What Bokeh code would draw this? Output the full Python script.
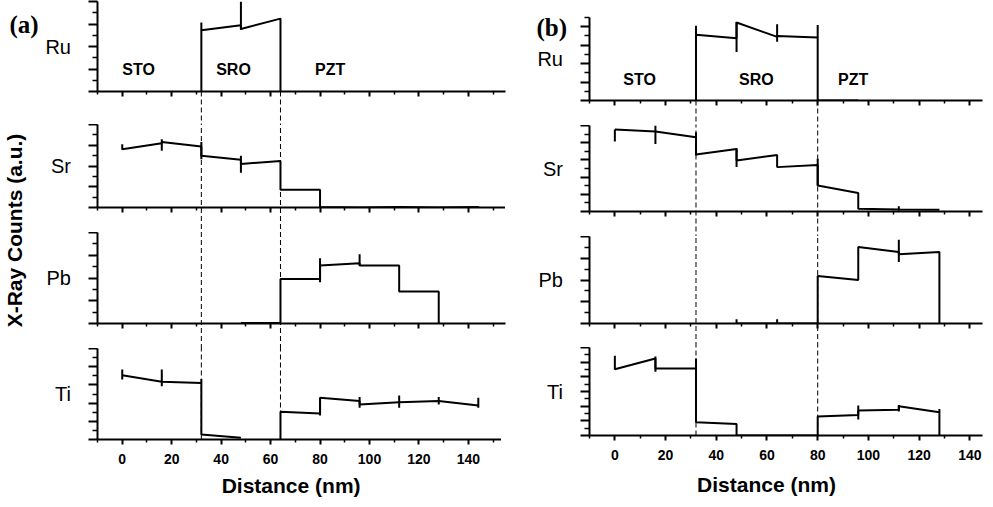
import math
from bokeh.plotting import figure
from bokeh.models import Range1d, FixedTicker, CustomLabelingPolicy
from bokeh.layouts import row, column
from bokeh.embed import file_html
from bokeh.resources import INLINE
from bokeh.core.properties import value

NaN = float("nan")

# ---------------- data ----------------
x_major = [0, 20, 40, 60, 80, 100, 120, 140]
x_minor_a = [-10, 10, 30, 50, 70, 90, 110, 130, 150]
x_minor_b = [-10, 10, 30, 50, 70, 90, 110, 130]
interfaces_a = [32, 64]
interfaces_b = [32, 80]
layer_names = ["STO", "SRO", "PZT"]
elements = ["Ru", "Sr", "Pb", "Ti"]

# panel (a)
ru_a_x = [32, 32, 48, 48, 64, 64]
ru_a_y = [0, 2.72, 2.94, 2.78, 3.24, 0]
ru_a_ex = [32, 48]
ru_a_lo = [2.72, 2.75]
ru_a_hi = [3.07, 4.0]

sr_a_x = [0, 16, 16, 32, 32, 48, 48, 64, 64, 80, 80, 96, 112, 128, 144]
sr_a_y = [2.81, 3.10, 3.16, 2.94, 2.49, 2.30, 2.10, 2.24, 0.86, 0.86, 0.02, 0.0, 0.03, 0.0, 0.02]
sr_a_ex = [0, 16, 32, 48, 112, 144]
sr_a_lo = [2.78, 2.73, 2.33, 1.67, 0.0, 0.0]
sr_a_hi = [3.05, 3.29, 3.16, 2.49, 0.07, 0.06]

pb_a_x = [48, 64, 64, 80, 80, 96, 96, 112, 112, 128, 128]
pb_a_y = [0.02, 0.03, 1.96, 1.96, 2.55, 2.65, 2.55, 2.55, 1.41, 1.41, 0.0]
pb_a_ex = [80, 96]
pb_a_lo = [1.81, 2.55]
pb_a_hi = [2.87, 3.04]

ti_a_x = [0, 16, 16, 32, 32, 48, NaN, 64, 64, 80, 80, 96, 96, 112, 128, 144]
ti_a_y = [3.53, 3.17, 3.17, 3.11, 0.27, 0.09, NaN, 0.0, 1.52, 1.43, 2.29, 2.11, 1.92, 2.05, 2.11, 1.87]
ti_a_ex = [0, 16, 32, 80, 96, 112, 128, 144]
ti_a_lo = [3.30, 2.93, 3.11, 1.32, 1.74, 1.74, 1.92, 1.74]
ti_a_hi = [3.85, 3.85, 3.33, 2.29, 2.34, 2.42, 2.34, 2.29]

# panel (b)
ru_b_x = [32, 32, 48, 48, 64, 64, 80, 80, 96]
ru_b_y = [0, 3.56, 3.38, 4.23, 3.45, 3.50, 3.41, 0, 0]
ru_b_ex = [32, 48, 64, 80]
ru_b_lo = [3.56, 2.63, 3.18, 3.41]
ru_b_hi = [4.05, 4.26, 4.14, 4.10]

sr_b_x = [0, 16, 32, 32, 48, 48, 64, 64, 80, 80, 96, 96, 112, 128]
sr_b_y = [4.77, 4.65, 4.32, 3.31, 3.64, 2.97, 3.29, 2.58, 2.71, 1.51, 1.07, 0.16, 0.12, 0.10]
sr_b_ex = [0, 16, 32, 48, 80, 112]
sr_b_lo = [4.07, 3.93, 3.26, 2.58, 1.51, 0.06]
sr_b_hi = [4.77, 5.0, 4.61, 3.68, 3.06, 0.30]

pb_b_x = [48, 80, 80, 96, 96, 112, 112, 128, 128]
pb_b_y = [0, 0, 2.18, 2.0, 3.52, 3.29, 3.18, 3.29, 0]
pb_b_ex = [48, 64, 112]
pb_b_lo = [0, 0, 2.83]
pb_b_hi = [0.2, 0.2, 3.85]

ti_b_x = [0, 16, 16, 32, 32, 48, 48, 80, 80, 96, 96, 112, 112, 128, 128]
ti_b_y = [4.52, 5.25, 4.57, 4.57, 0.90, 0.79, 0, 0, 1.29, 1.40, 1.70, 1.76, 1.99, 1.58, 0]
ti_b_ex = [0, 16, 32, 96, 112, 128]
ti_b_lo = [4.48, 4.34, 4.57, 1.09, 1.63, 1.58]
ti_b_hi = [5.43, 5.38, 5.25, 2.04, 2.08, 1.81]

FONT = "Liberation Sans"
SERIF = "Liberation Serif"
X_TITLE = "Distance (nm)"
Y_TITLE = "X-Ray Counts (a.u.)"


def no_labels():
    return CustomLabelingPolicy(code="return new Set()")


def halves(top):
    n = int(round(top * 2))
    major = [i * 0.5 for i in range(n + 1) if i % 2 == 0]
    minor = [i * 0.5 for i in range(n + 1) if i % 2 == 1]
    return major, minor


def style_axis(ax):
    ax.major_tick_in = 0
    ax.minor_tick_in = 0
    ax.axis_line_width = 2
    ax.axis_line_color = "black"
    ax.major_tick_line_width = 2
    ax.minor_tick_line_width = 1.5
    ax.major_tick_line_color = "black"
    ax.minor_tick_line_color = "black"
    ax.major_label_text_color = "black"
    ax.axis_label_text_color = "black"


def make_sub(elem, x_end, x_minor, y_top, fw, fh, bl, br, bt, bb, xs, ys, ex, lo, hi,
             interfaces, dash_mode, bottom=False):
    p = figure(frame_width=fw, frame_height=fh,
               x_range=Range1d(-10, x_end), y_range=Range1d(0, y_top),
               output_backend="svg", toolbar_location=None, title=None,
               min_border_left=bl, min_border_right=br,
               min_border_top=bt, min_border_bottom=bb)
    p.outline_line_color = None
    p.grid.visible = False
    p.background_fill_color = None
    p.border_fill_color = None

    major, minor = halves(y_top)
    ya = p.yaxis[0]
    style_axis(ya)
    ya.ticker = FixedTicker(ticks=major, minor_ticks=minor)
    ya.major_label_policy = no_labels()
    ya.major_label_text_font_size = "1px"
    ya.major_label_standoff = 0
    ya.major_tick_out = 9
    ya.minor_tick_out = 5
    ya.axis_label = elem
    ya.axis_label_orientation = "horizontal"
    ya.axis_label_text_font = FONT
    ya.axis_label_text_font_style = "normal"
    ya.axis_label_text_font_size = "20px"
    ya.axis_label_standoff = 14

    xa = p.xaxis[0]
    style_axis(xa)
    xa.ticker = FixedTicker(ticks=x_major, minor_ticks=x_minor)
    xa.major_tick_out = 5
    xa.minor_tick_out = 3
    if bottom:
        xa.major_label_text_font = FONT
        xa.major_label_text_font_style = "bold"
        xa.major_label_text_font_size = "14px"
        xa.major_label_standoff = 9
    else:
        xa.major_label_policy = no_labels()
        xa.major_label_text_font_size = "1px"
        xa.major_label_standoff = 0

    # dashed interface markers (overlay level: continue through the borders)
    n = len(interfaces)
    if dash_mode == "below":
        y0, y1 = 0, -50
    elif dash_mode == "full":
        y0, y1 = -50, 50
    else:
        y0, y1 = 0, 50
    p.segment(x0=interfaces, y0=[y0] * n, x1=interfaces, y1=[y1] * n,
              line_color="black", line_width=1, line_dash="5 3", level="overlay")

    p.line(xs, ys, line_color="black", line_width=2)
    p.segment(x0=ex, y0=lo, x1=ex, y1=hi, line_color="black", line_width=2)
    return p


def x_title(p, x, y):
    p.text(x=[x], y=[y], text=[X_TITLE], text_font=value(FONT), text_font_style="bold",
           text_font_size="21px", text_align="center", text_baseline="middle",
           text_color="black", level="overlay")


# ---------- panel (a) ----------
FWA = 408
BLA, BRA = 46, 5
ru_a = make_sub("Ru", 155, x_minor_a, 4, FWA, 90, BLA, BRA, 1, 33,
                ru_a_x, ru_a_y, ru_a_ex, ru_a_lo, ru_a_hi, interfaces_a, "below")
ru_a.text(x=[0, 38, 78], y=[1.0, 1.0, 1.0], text=layer_names,
          text_font=value(FONT), text_font_style="bold", text_font_size="16px",
          text_align="left", text_baseline="alphabetic", text_color="black")
sr_a = make_sub("Sr", 155, x_minor_a, 4, FWA, 83, BLA, BRA, 0, 25,
                sr_a_x, sr_a_y, sr_a_ex, sr_a_lo, sr_a_hi, interfaces_a, "full")
pb_a = make_sub("Pb", 155, x_minor_a, 4, FWA, 91, BLA, BRA, 0, 25,
                pb_a_x, pb_a_y, pb_a_ex, pb_a_lo, pb_a_hi, interfaces_a, "full")
ti_a = make_sub("Ti", 155, x_minor_a, 5, FWA, 91, BLA, BRA, 0, 60,
                ti_a_x, ti_a_y, ti_a_ex, ti_a_lo, ti_a_hi, interfaces_a, "top", bottom=True)
x_title(ti_a, 68.3, -2.53)

# ---------- panel (b) ----------
FWB = 393
BLB, BRB = 79, 3
ru_b = make_sub("Ru", 145, x_minor_b, 4.5, FWB, 83, BLB, BRB, 17, 25,
                ru_b_x, ru_b_y, ru_b_ex, ru_b_lo, ru_b_hi, interfaces_b, "below")
ru_b.text(x=[3.3, 49, 88], y=[1.12, 1.12, 1.12], text=layer_names,
          text_font=value(FONT), text_font_style="bold", text_font_size="16px",
          text_align="left", text_baseline="alphabetic", text_color="black")
ru_b.text(x=[-30.9], y=[3.96], text=["(b)"], text_font=value(SERIF),
          text_font_style="bold", text_font_size="25px", level="overlay",
          text_align="left", text_baseline="alphabetic", text_color="black")
sr_b = make_sub("Sr", 145, x_minor_b, 5, FWB, 86, BLB, BRB, 0, 25,
                sr_b_x, sr_b_y, sr_b_ex, sr_b_lo, sr_b_hi, interfaces_b, "full")
pb_b = make_sub("Pb", 145, x_minor_b, 4, FWB, 87, BLB, BRB, 0, 24,
                pb_b_x, pb_b_y, pb_b_ex, pb_b_lo, pb_b_hi, interfaces_b, "full")
ti_b = make_sub("Ti", 145, x_minor_b, 6, FWB, 88, BLB, BRB, 0, 64,
                ti_b_x, ti_b_y, ti_b_ex, ti_b_lo, ti_b_hi, interfaces_b, "top", bottom=True)
x_title(ti_b, 59.8, -3.32)

# ---------- left label strip ----------
lab = figure(frame_width=42, frame_height=499, x_range=Range1d(0, 42), y_range=Range1d(0, 499),
             output_backend="svg", toolbar_location=None, title=None,
             x_axis_location=None, y_axis_location=None,
             min_border_left=0, min_border_right=0, min_border_top=0, min_border_bottom=0)
lab.outline_line_color = None
lab.grid.visible = False
lab.background_fill_color = None
lab.border_fill_color = None
lab.text(x=[14], y=[269], text=[Y_TITLE], angle=math.pi / 2,
         text_font=value(FONT), text_font_style="bold", text_font_size="21px",
         text_align="center", text_baseline="middle", text_color="black")
lab.text(x=[9], y=[475], text=["(a)"], text_font=value(SERIF),
         text_font_style="bold", text_font_size="25px",
         text_align="left", text_baseline="alphabetic", text_color="black")

layout = row(lab, column(ru_a, sr_a, pb_a, ti_a), column(ru_b, sr_b, pb_b, ti_b))

open("out.html", "w").write(file_html(layout, INLINE))
